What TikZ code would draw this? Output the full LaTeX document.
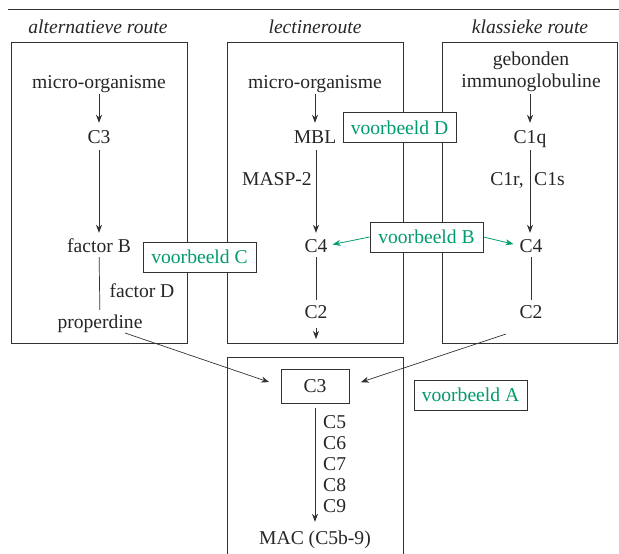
\documentclass[tikz,border=0pt]{standalone}
\usepackage{fontspec}
\setmainfont{Liberation Serif}
\usetikzlibrary{arrows.meta}
\definecolor{vbgreen}{RGB}{0,155,110}
\definecolor{linegray}{RGB}{50,50,50}
\begin{document}
\begin{tikzpicture}[x=1pt,y=-1pt,
  txt/.style={inner sep=0pt, text height=13pt, text depth=0pt, anchor=base, font=\fontsize{19.6}{22}\selectfont, text=black!85},
  ttl/.style={txt, font=\fontsize{19.6}{22}\selectfont\itshape},
  routebox/.style={draw=linegray, line width=0.9pt},
  vb/.style={draw=linegray, line width=0.9pt, fill=white, text=vbgreen, minimum width=113pt, minimum height=30pt, inner sep=0pt, text height=13pt, text depth=0pt, font=\fontsize{19.6}{22}\selectfont},
  cbox/.style={draw=linegray, line width=0.9pt, fill=white, text=black!85, minimum width=68pt, minimum height=34pt, inner sep=0pt, text height=13pt, text depth=0pt, font=\fontsize{19.6}{22}\selectfont},
  arr/.style={draw=linegray, line width=0.7pt, -{Stealth[length=8pt,width=6pt,inset=2.5pt]}},
  ln/.style={draw=linegray, line width=0.7pt},
  garr/.style={draw=vbgreen, line width=0.8pt, -{Stealth[length=8pt,width=6pt,inset=2.5pt]}}]
\useasboundingbox (0,0) rectangle (619,554);

% top rule
\draw[line width=0.9pt, linegray] (8,9) -- (619,9);

% titles
\node[ttl] (t1) at (98,33) {alternatieve route};
\node[ttl] (t2) at (315,33) {lectineroute};
\node[ttl] (t3) at (530,33) {klassieke route};

% route boxes
\draw[routebox] (11,42) rectangle (187,343);
\draw[routebox] (227,42) rectangle (403,343);
\draw[routebox] (442,42) rectangle (617,343);
\draw[routebox] (227,554) -- (227,357) -- (403,357) -- (403,554);

% alternative route
\node[txt] (am) at (99,88) {micro-organisme};
\node[txt] (ac3) at (99,143) {C3};
\node[txt] (afb) at (99,252) {factor B};
\node[txt] (afd) at (142,297) {factor D};
\node[txt] (apr) at (100,328) {properdine};
\draw[arr, shorten <=6pt, shorten >=7pt] (am) -- (ac3);
\draw[arr, shorten <=7pt, shorten >=6pt] (ac3) -- (afb);
\draw[ln, shorten <=5pt, shorten >=5pt] (afb) -- (apr);

% lectine route
\node[txt] (lm) at (315,88) {micro-organisme};
\node[txt] (lmbl) at (315,143) {MBL};
\node[txt, anchor=base east] (lmasp) at (312,185) {MASP-2};
\node[txt] (lc4) at (316,252) {C4};
\node[txt] (lc2) at (316,318) {C2};
\coordinate (lend) at (316,339);
\draw[arr, shorten <=6pt, shorten >=7pt] (lm) -- (lmbl);
\draw[arr, shorten <=7pt, shorten >=6pt] (lmbl.south -| lc4) -- (lc4);
\draw[ln, shorten <=5pt, shorten >=5pt] (lc4) -- (lc2);
\draw[arr, shorten <=10pt] (lc2.south) -- (lend);

% classic route
\node[txt] (kg) at (531,65) {gebonden};
\node[txt] (ki) at (531,87) {immunoglobuline};
\node[txt] (kc1q) at (530,143) {C1q};
\node[txt, anchor=base east] (kc1r) at (524,185) {C1r,};
\node[txt, anchor=base west] (kc1s) at (534,185) {C1s};
\node[txt] (kc4) at (531,252) {C4};
\node[txt] (kc2) at (531,318) {C2};
\draw[arr, shorten <=7pt, shorten >=7pt] (ki.south -| kc1q) -- (kc1q);
\draw[arr, shorten <=7pt, shorten >=6pt] (kc1q) -- (kc1q |- kc4.north);
\draw[ln, shorten <=5pt, shorten >=5pt] (kc4) -- (kc2);

% final common pathway
\node[cbox] (fc3) at (315,386) {C3};
\node[txt, anchor=base west] (c5) at (323,428) {C5};
\node[txt, anchor=base west] (c6) at (323,449) {C6};
\node[txt, anchor=base west] (c7) at (323,470) {C7};
\node[txt, anchor=base west] (c8) at (323,491) {C8};
\node[txt, anchor=base west] (c9) at (323,512) {C9};
\node[txt] (mac) at (315,544) {MAC (C5b-9)};
\draw[arr, shorten <=5pt, shorten >=9pt] (fc3) -- (mac);
\coordinate (pstart) at (125,333);
\coordinate (kstart) at (506,334);
\draw[arr, shorten >=12pt] (pstart) -- (fc3.west);
\draw[arr, shorten >=12pt] (kstart) -- (fc3.east);

% voorbeeld boxes
\node[vb] (vd) at (399.5,127.5) {voorbeeld D};
\node[vb] (vc) at (199.5,257) {voorbeeld C};
\node[vb] (vbb) at (426.5,237) {voorbeeld B};
\node[vb] (va) at (470.5,395) {voorbeeld A};
\draw[garr, shorten >=5pt] (vbb.west) -- (lc4.east);
\draw[garr, shorten >=6pt] (vbb.east) -- (kc4.west);
\end{tikzpicture}
\end{document}
